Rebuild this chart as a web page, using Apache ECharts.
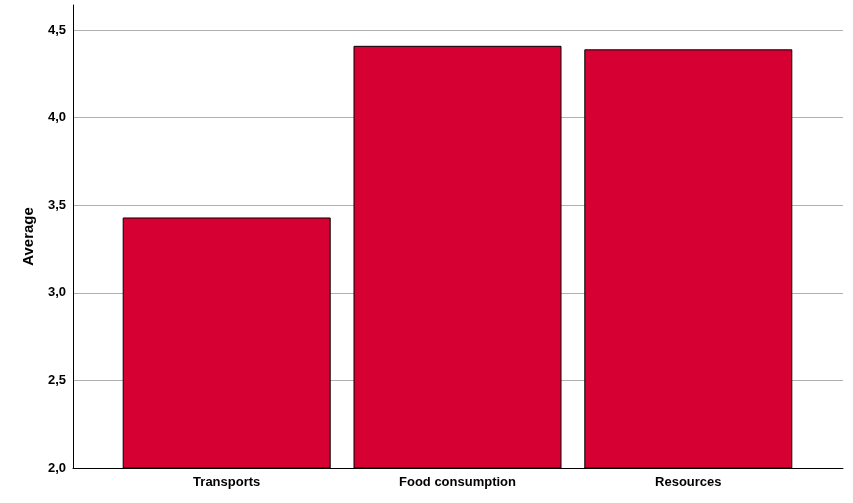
<!DOCTYPE html>
<html><head><meta charset="utf-8">
<script src="https://cdn.jsdelivr.net/npm/echarts@6/dist/echarts.min.js"></script>
<style>html,body{margin:0;padding:0;background:#fff}#c{width:853px;height:503px}</style>
</head><body><div id="c"></div>
<script>
const categories = ['Transports', 'Food consumption', 'Resources'];
const averages = [3.43, 4.41, 4.39];
const yTicks = [2.0, 2.5, 3.0, 3.5, 4.0, 4.5];

const chart = echarts.init(document.getElementById('c'), null, {renderer: 'canvas'});
const fmt = v => v.toFixed(1).replace('.', ',');
const font = 'Liberation Sans, Arial, sans-serif';
chart.setOption({
  animation: false,
  backgroundColor: '#fff',
  grid: [
    {left: 73, right: 10, top: 30, bottom: 35},
    {left: 111.3, right: 49.3, top: 5, bottom: 35},
    {left: 73, right: 10, top: 5, bottom: 35}
  ],
  xAxis: [
    {gridIndex: 0, type: 'category', data: categories, axisLine: {show: true, lineStyle: {color: '#000', width: 1}}, axisTick: {show: false}, axisLabel: {show: false}},
    {gridIndex: 1, type: 'category', data: categories, axisLine: {show: false}, axisTick: {show: false},
      axisLabel: {color: '#000', fontWeight: 'bold', fontSize: 13, fontFamily: font, margin: 8}},
    {gridIndex: 2, type: 'category', data: categories, show: false}
  ],
  yAxis: [
    {gridIndex: 0, type: 'value', min: yTicks[0], max: yTicks[yTicks.length - 1], interval: 0.5,
      axisLine: {show: false}, axisTick: {show: false},
      axisLabel: {color: '#000', fontWeight: 'bold', fontSize: 13, fontFamily: font, margin: 7, formatter: fmt},
      splitLine: {show: true, lineStyle: {color: '#b0b0b0', width: 1}}},
    {gridIndex: 1, type: 'value', min: 2, max: 4.643, show: false, splitLine: {show: false}},
    {gridIndex: 2, type: 'value', min: 2, max: 4.643,
      axisLine: {show: true, lineStyle: {color: '#000', width: 1}}, axisTick: {show: false}, axisLabel: {show: false},
      splitLine: {show: false},
      name: 'Average', nameLocation: 'middle', nameGap: 37,
      nameTextStyle: {color: '#000', fontWeight: 'bold', fontSize: 15, fontFamily: font}}
  ],
  series: [{
    type: 'bar', xAxisIndex: 1, yAxisIndex: 1, data: averages, barWidth: 208,
    itemStyle: {color: '#d70033', borderColor: '#000', borderWidth: 1}
  }]
});
</script></body></html>
